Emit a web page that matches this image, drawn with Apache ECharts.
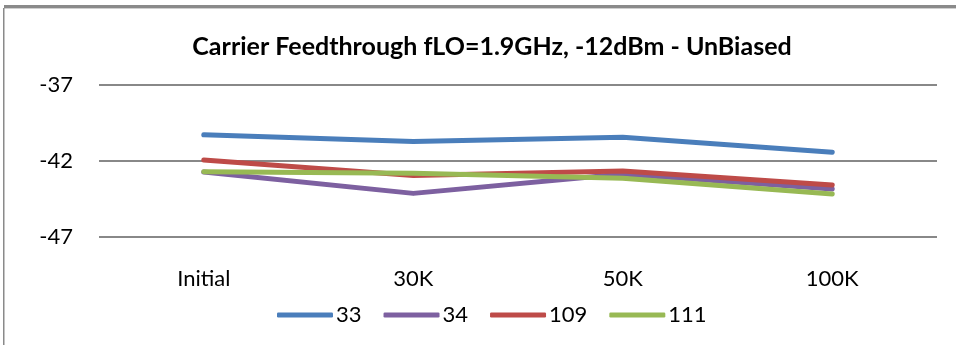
<!DOCTYPE html>
<html>
<head>
<meta charset="utf-8">
<script src="https://cdn.jsdelivr.net/npm/echarts@6/dist/echarts.min.js"></script>
<style>
html,body{margin:0;padding:0;background:#fff;}
#chart{width:956px;height:345px;}
</style>
</head>
<body>
<div id="chart"></div>
<script>
const titleText = 'Carrier Feedthrough fLO=1.9GHz, -12dBm - UnBiased';
const categories = ['Initial', '30K', '50K', '100K'];
const seriesNames = ['33', '34', '109', '111'];
const s33 = [-40.28, -40.72, -40.44, -41.43];
const s34 = [-42.72, -44.13, -42.86, -43.84];
const s109 = [-41.93, -42.96, -42.66, -43.58];
const s111 = [-42.70, -42.81, -43.14, -44.17];
const colors = ['#4A7EBB', '#7D60A0', '#BE4B48', '#98B954'];
const FONT = 'Lato, "Open Sans", sans-serif';

const chart = echarts.init(document.getElementById('chart'), null, {renderer: 'canvas'});
const allData = [s33, s34, s109, s111];
chart.setOption({
  animation: false,
  backgroundColor: '#ffffff',
  textStyle: {fontFamily: FONT},
  title: {
    text: titleText,
    left: 487,
    textAlign: 'center',
    top: 29,
    textStyle: {fontFamily: FONT, fontWeight: 'bold', fontSize: 25, color: '#000'}
  },
  legend: {
    data: seriesNames,
    left: 272,
    top: 299,
    itemWidth: 56,
    itemHeight: 5,
    itemGap: 22,
    icon: 'roundRect',
    textStyle: {fontFamily: FONT, fontSize: 22, color: '#000', padding: [0, 0, 0, -2]}
  },
  grid: {left: 99, right: 19, top: 85, bottom: 108, containLabel: false},
  xAxis: {
    type: 'category',
    data: categories,
    boundaryGap: true,
    axisLine: {show: false},
    axisTick: {show: false},
    axisLabel: {margin: 31, fontFamily: FONT, fontSize: 22, color: '#000'}
  },
  yAxis: {
    type: 'value',
    min: -47,
    max: -37,
    interval: 5,
    axisLine: {show: false},
    axisTick: {show: false},
    axisLabel: {margin: 26, fontFamily: FONT, fontSize: 22, color: '#000'},
    splitLine: {lineStyle: {color: '#888888', width: 2}}
  },
  graphic: [
    {type: 'rect', shape: {x: 4, y: 5, width: 952, height: 3}, style: {fill: '#8a8a8a'}, silent: true},
    {type: 'rect', shape: {x: 4, y: 8, width: 952, height: 1}, style: {fill: '#cfcfcf'}, silent: true},
    {type: 'rect', shape: {x: 3, y: 8, width: 1.5, height: 337}, style: {fill: '#8a8a8a'}, silent: true}
  ],
  series: seriesNames.map((n, i) => ({
    name: n,
    type: 'line',
    data: allData[i],
    symbol: 'none',
    color: colors[i],
    lineStyle: {width: 5, color: colors[i], cap: 'round', join: 'round'},
    z: 2
  }))
});
</script>
</body>
</html>
